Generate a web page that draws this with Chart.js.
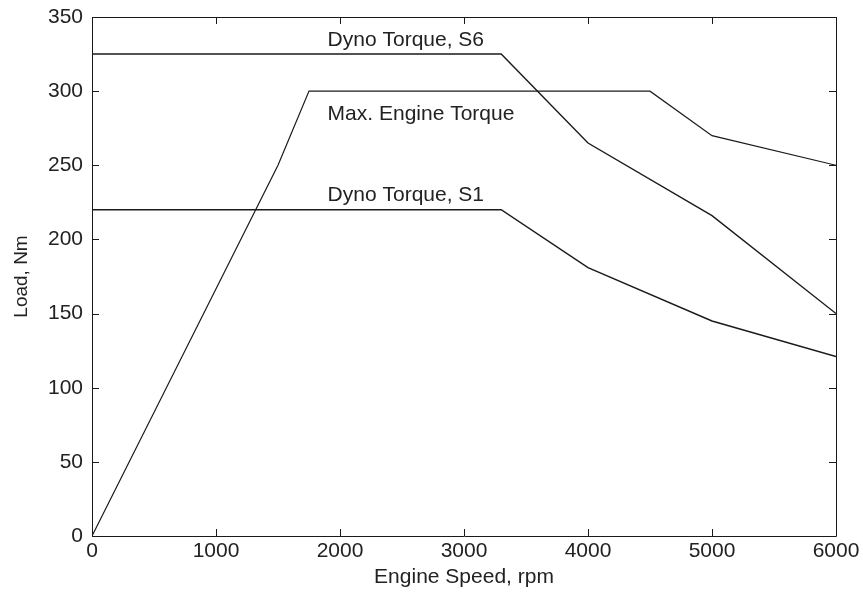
<!DOCTYPE html>
<html>
<head>
<meta charset="utf-8">
<script src="https://cdn.jsdelivr.net/npm/chart.js@4"></script>
<style>
  html, body { margin: 0; padding: 0; background: #fff; }
  #wrap { width: 863px; height: 593px; }
</style>
</head>
<body>
<div id="wrap"><canvas id="diagram" width="863" height="593"></canvas></div>
<script>
// curve data (rpm, Nm)
const maxTorqueRpm = [0, 1500, 1750, 4500, 5000, 6000];
const maxTorqueLoad = [0, 250, 300, 300, 270, 250];

const s6Rpm = [0, 3300, 4000, 5000, 6000];
const s6Load = [325, 325, 265, 216, 150];

const s1Rpm = [0, 3300, 4000, 5000, 6000];
const s1Load = [220, 220, 181, 145, 121];

const curveNames = ['Max. Engine Torque', 'Dyno Torque, S6', 'Dyno Torque, S1'];

const xTicks = [0, 1000, 2000, 3000, 4000, 5000, 6000];
const yTicks = [0, 50, 100, 150, 200, 250, 300, 350];

const ink = '#1a1a1a';
const textInk = '#222';
const fontFam = '"Liberation Sans", Arial, sans-serif';

function pts(xs, ys) {
    return xs.map((x, i) => ({ x: x, y: ys[i] }));
}

// box round the plot with inward ticks on all four sides, plus curve labels
const matlabBox = {
    id: 'matlabBox',
    afterDatasetsDraw(chart) {
        const c = chart.ctx;
        const a = chart.chartArea;
        const xs = chart.scales.x, ys = chart.scales.y;
        c.save();
        c.strokeStyle = ink;
        c.lineWidth = 1;
        c.beginPath();
        c.rect(Math.round(a.left) + 0.5, Math.round(a.top) + 0.5,
               Math.round(a.right - a.left), Math.round(a.bottom - a.top));
        xTicks.forEach(v => {
            const px = Math.round(xs.getPixelForValue(v)) + 0.5;
            c.moveTo(px, a.bottom); c.lineTo(px, a.bottom - 7);
            c.moveTo(px, a.top); c.lineTo(px, a.top + 7);
        });
        yTicks.forEach(v => {
            const py = Math.round(ys.getPixelForValue(v)) + 0.5;
            c.moveTo(a.left, py); c.lineTo(a.left + 7, py);
            c.moveTo(a.right, py); c.lineTo(a.right - 7, py);
        });
        c.stroke();

        // curve labels
        c.fillStyle = textInk;
        c.font = '21px ' + fontFam;
        c.textAlign = 'left';
        c.textBaseline = 'alphabetic';
        const lx = xs.getPixelForValue(1900);
        c.fillText(curveNames[1], lx, ys.getPixelForValue(330.5));
        c.fillText(curveNames[0], lx, ys.getPixelForValue(280.5));
        c.fillText(curveNames[2], lx, ys.getPixelForValue(225.7));
        c.restore();
    }
};

const lineStyle = {
    borderColor: ink,
    borderWidth: 1.4,
    pointRadius: 0,
    fill: false,
    tension: 0
};

const plain = v => String(v);

const diagram = document.getElementById('diagram').getContext('2d');
const myChart = new Chart(diagram, {
    type: 'line',
    data: {
        datasets: [
            Object.assign({ label: curveNames[0], data: pts(maxTorqueRpm, maxTorqueLoad) }, lineStyle, { borderWidth: 1.2 }),
            Object.assign({ label: curveNames[1], data: pts(s6Rpm, s6Load) }, lineStyle),
            Object.assign({ label: curveNames[2], data: pts(s1Rpm, s1Load) }, lineStyle)
        ]
    },
    options: {
        responsive: false,
        animation: false,
        layout: { padding: { top: 17, right: 27, left: 0, bottom: 0 } },
        plugins: {
            legend: { display: false },
            tooltip: { enabled: false }
        },
        scales: {
            x: {
                type: 'linear',
                min: 0,
                max: 6000,
                afterBuildTicks: s => { s.ticks = xTicks.map(v => ({ value: v })); },
                afterFit: s => { s.height = 57; s.paddingLeft = 0; s.paddingRight = 0; },
                grid: { display: false, drawTicks: false },
                border: { display: false },
                ticks: {
                    color: textInk,
                    font: { family: fontFam, size: 21 },
                    padding: 3,
                    maxRotation: 0,
                    autoSkip: false,
                    callback: plain
                },
                title: {
                    display: true,
                    text: 'Engine Speed, rpm',
                    color: textInk,
                    font: { family: fontFam, size: 21 },
                    padding: { top: 0, bottom: 3 }
                }
            },
            y: {
                type: 'linear',
                min: 0,
                max: 350,
                afterBuildTicks: s => { s.ticks = yTicks.map(v => ({ value: v })); },
                afterFit: s => { s.width = 92; s.paddingTop = 0; s.paddingBottom = 0; },
                grid: { display: false, drawTicks: false },
                border: { display: false },
                ticks: {
                    color: textInk,
                    font: { family: fontFam, size: 21 },
                    padding: 9,
                    autoSkip: false,
                    callback: plain
                },
                title: {
                    display: true,
                    text: 'Load, Nm',
                    color: textInk,
                    font: { family: fontFam, size: 19 },
                    padding: { top: 10, bottom: 0 }
                }
            }
        }
    },
    plugins: [matlabBox]
});
</script>
</body>
</html>
